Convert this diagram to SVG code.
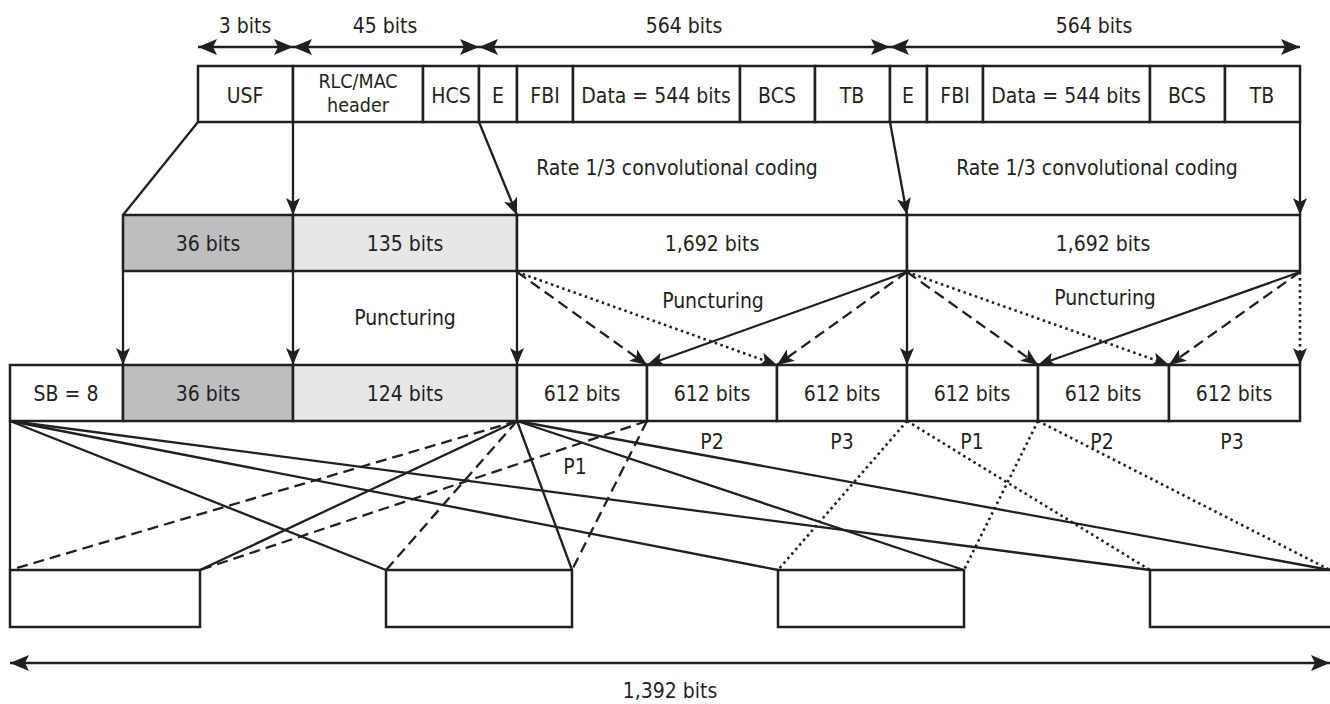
<svg xmlns="http://www.w3.org/2000/svg" width="1330" height="704" viewBox="0 0 1330 704">
<style>
text{font-family:"Liberation Sans Narrow","DejaVu Sans Condensed","Liberation Sans",sans-serif;font-size:21px;fill:#231f20;text-anchor:middle}
.sm{font-size:19.5px}
.box{fill:#fff;stroke:#231f20;stroke-width:2.5}
.dk{fill:#bcbec0;stroke:#231f20;stroke-width:2.5}
.lt{fill:#e6e7e8;stroke:#231f20;stroke-width:2.5}
.ln{fill:none;stroke:#231f20;stroke-width:2.3}
.da{stroke-dasharray:11,6}
.dt{stroke-dasharray:2.5,3.5;stroke-width:2.6}
</style>
<defs>
<marker id="ah" markerUnits="userSpaceOnUse" markerWidth="17" markerHeight="14" viewBox="0 0 17 14" refX="17" refY="7" orient="auto-start-reverse"><path d="M0,0 L17,7 L0,14 L4,7 z" fill="#231f20"/></marker>
<marker id="ad" markerUnits="userSpaceOnUse" markerWidth="19" markerHeight="16" viewBox="0 0 19 16" refX="19" refY="8" orient="auto-start-reverse"><path d="M0,0 L19,8 L0,16 L4,8 z" fill="#231f20"/></marker>
</defs>

<!-- dimension labels -->
<g id="dims">
<text x="245" y="33">3 bits</text>
<text x="385" y="33">45 bits</text>
<text x="684" y="33">564 bits</text>
<text x="1094" y="33">564 bits</text>
<text x="670" y="698">1,392 bits</text>
</g>

<!-- top row -->
<g id="n_usf"><rect class="box" x="198" y="66" width="95" height="56"/><text x="245" y="103">USF</text></g>
<g id="n_rlc"><rect class="box" x="293" y="66" width="130" height="56"/><text class="sm" x="358" y="88">RLC/MAC</text><text class="sm" x="358" y="112">header</text></g>
<g id="n_hcs"><rect class="box" x="423" y="66" width="56" height="56"/><text x="451" y="103">HCS</text></g>
<g id="n_e1"><rect class="box" x="479" y="66" width="38" height="56"/><text x="498" y="103">E</text></g>
<g id="n_fbi1"><rect class="box" x="517" y="66" width="56" height="56"/><text x="545" y="103">FBI</text></g>
<g id="n_data1"><rect class="box" x="573" y="66" width="167" height="56"/><text x="656" y="103">Data = 544 bits</text></g>
<g id="n_bcs1"><rect class="box" x="740" y="66" width="75" height="56"/><text x="777" y="103">BCS</text></g>
<g id="n_tb1"><rect class="box" x="815" y="66" width="75" height="56"/><text x="852" y="103">TB</text></g>
<g id="n_e2"><rect class="box" x="890" y="66" width="37" height="56"/><text x="908" y="103">E</text></g>
<g id="n_fbi2"><rect class="box" x="927" y="66" width="56" height="56"/><text x="955" y="103">FBI</text></g>
<g id="n_data2"><rect class="box" x="983" y="66" width="167" height="56"/><text x="1066" y="103">Data = 544 bits</text></g>
<g id="n_bcs2"><rect class="box" x="1150" y="66" width="75" height="56"/><text x="1187" y="103">BCS</text></g>
<g id="n_tb2"><rect class="box" x="1225" y="66" width="75" height="56"/><text x="1262" y="103">TB</text></g>

<g id="labels">
<text x="677" y="175">Rate 1/3 convolutional coding</text>
<text x="1097" y="175">Rate 1/3 convolutional coding</text>
<text x="405" y="325">Puncturing</text>
<text x="713" y="308">Puncturing</text>
<text x="1105" y="305">Puncturing</text>
<text x="575" y="474">P1</text>
<text x="712" y="449">P2</text>
<text x="842" y="449">P3</text>
<text x="972" y="449">P1</text>
<text x="1102" y="449">P2</text>
<text x="1232" y="449">P3</text>
</g>

<!-- middle row -->
<g id="m_36"><rect class="dk" x="123" y="215" width="170" height="56"/><text x="208" y="251">36 bits</text></g>
<g id="m_135"><rect class="lt" x="293" y="215" width="224" height="56"/><text x="405" y="251">135 bits</text></g>
<g id="m_1692a"><rect class="box" x="517" y="215" width="390" height="56"/><text x="712" y="251">1,692 bits</text></g>
<g id="m_1692b"><rect class="box" x="907" y="215" width="393" height="56"/><text x="1103" y="251">1,692 bits</text></g>

<!-- bottom row -->
<g id="b_sb"><rect class="box" x="10" y="365" width="113" height="56"/><text x="66" y="401">SB = 8</text></g>
<g id="b_36"><rect class="dk" x="123" y="365" width="170" height="56"/><text x="208" y="401">36 bits</text></g>
<g id="b_124"><rect class="lt" x="293" y="365" width="224" height="56"/><text x="405" y="401">124 bits</text></g>
<g id="b_p1a"><rect class="box" x="517" y="365" width="130" height="56"/><text x="582" y="401">612 bits</text></g>
<g id="b_p2a"><rect class="box" x="647" y="365" width="130" height="56"/><text x="712" y="401">612 bits</text></g>
<g id="b_p3a"><rect class="box" x="777" y="365" width="130" height="56"/><text x="842" y="401">612 bits</text></g>
<g id="b_p1b"><rect class="box" x="907" y="365" width="131" height="56"/><text x="972" y="401">612 bits</text></g>
<g id="b_p2b"><rect class="box" x="1038" y="365" width="131" height="56"/><text x="1103" y="401">612 bits</text></g>
<g id="b_p3b"><rect class="box" x="1169" y="365" width="131" height="56"/><text x="1234" y="401">612 bits</text></g>

<!-- bursts -->
<g id="burst1"><rect class="box" x="10" y="570" width="190" height="57"/></g>
<g id="burst2"><rect class="box" x="386" y="570" width="186" height="57"/></g>
<g id="burst3"><rect class="box" x="778" y="570" width="186" height="57"/></g>
<g id="burst4"><path class="box" d="M1335,570 H1150 V627 H1335"/></g>

<g id="connectors">
<!-- dimension arrows -->
<line class="ln" x1="198" y1="47" x2="293" y2="47" marker-start="url(#ad)" marker-end="url(#ad)"/>
<line class="ln" x1="293" y1="47" x2="479" y2="47" marker-start="url(#ad)" marker-end="url(#ad)"/>
<line class="ln" x1="479" y1="47" x2="890" y2="47" marker-start="url(#ad)" marker-end="url(#ad)"/>
<line class="ln" x1="890" y1="47" x2="1300" y2="47" marker-start="url(#ad)" marker-end="url(#ad)"/>
<line class="ln" x1="10" y1="663" x2="1330" y2="663" marker-start="url(#ad)" marker-end="url(#ad)"/>
<!-- coding -->
<line class="ln" x1="198" y1="122" x2="123" y2="215"/>
<line class="ln" x1="293" y1="122" x2="293" y2="215" marker-end="url(#ah)"/>
<line class="ln" x1="479" y1="122" x2="517" y2="215" marker-end="url(#ah)"/>
<line class="ln" x1="890" y1="122" x2="907" y2="215" marker-end="url(#ah)"/>
<line class="ln" x1="1300" y1="122" x2="1300" y2="215" marker-end="url(#ah)"/>
<!-- puncturing -->
<line class="ln" x1="123" y1="272" x2="123" y2="365" marker-end="url(#ah)"/>
<line class="ln" x1="293" y1="272" x2="293" y2="365" marker-end="url(#ah)"/>
<line class="ln" x1="517" y1="272" x2="517" y2="365" marker-end="url(#ah)"/>
<line class="ln da" x1="517" y1="272" x2="647" y2="365" marker-end="url(#ah)"/>
<line class="ln dt" x1="517" y1="272" x2="777" y2="365" marker-end="url(#ah)"/>
<line class="ln" x1="907" y1="272" x2="647" y2="365" marker-end="url(#ah)"/>
<line class="ln da" x1="907" y1="272" x2="777" y2="365" marker-end="url(#ah)"/>
<line class="ln" x1="907" y1="272" x2="907" y2="365" marker-end="url(#ah)"/>
<line class="ln da" x1="907" y1="272" x2="1038" y2="365" marker-end="url(#ah)"/>
<line class="ln dt" x1="907" y1="272" x2="1169" y2="365" marker-end="url(#ah)"/>
<line class="ln" x1="1300" y1="272" x2="1038" y2="365" marker-end="url(#ah)"/>
<line class="ln da" x1="1300" y1="272" x2="1169" y2="365" marker-end="url(#ah)"/>
<line class="ln dt" x1="1300" y1="272" x2="1300" y2="365" marker-end="url(#ah)"/>
<!-- interleaving -->
<line class="ln" x1="10" y1="421" x2="10" y2="570"/>
<line class="ln" x1="10" y1="421" x2="386" y2="570"/>
<line class="ln" x1="10" y1="421" x2="778" y2="570"/>
<line class="ln" x1="10" y1="421" x2="1150" y2="570"/>
<line class="ln" x1="517" y1="421" x2="200" y2="570"/>
<line class="ln" x1="517" y1="421" x2="572" y2="570"/>
<line class="ln" x1="517" y1="421" x2="964" y2="570"/>
<line class="ln" x1="517" y1="421" x2="1330" y2="570"/>
<line class="ln da" x1="517" y1="421" x2="10" y2="570"/>
<line class="ln da" x1="517" y1="421" x2="386" y2="570"/>
<line class="ln da" x1="647" y1="421" x2="200" y2="570"/>
<line class="ln da" x1="647" y1="421" x2="572" y2="570"/>
<line class="ln dt" x1="907" y1="421" x2="778" y2="570"/>
<line class="ln dt" x1="907" y1="421" x2="1150" y2="570"/>
<line class="ln dt" x1="1038" y1="421" x2="964" y2="570"/>
<line class="ln dt" x1="1038" y1="421" x2="1330" y2="570"/>
</g>
</svg>
